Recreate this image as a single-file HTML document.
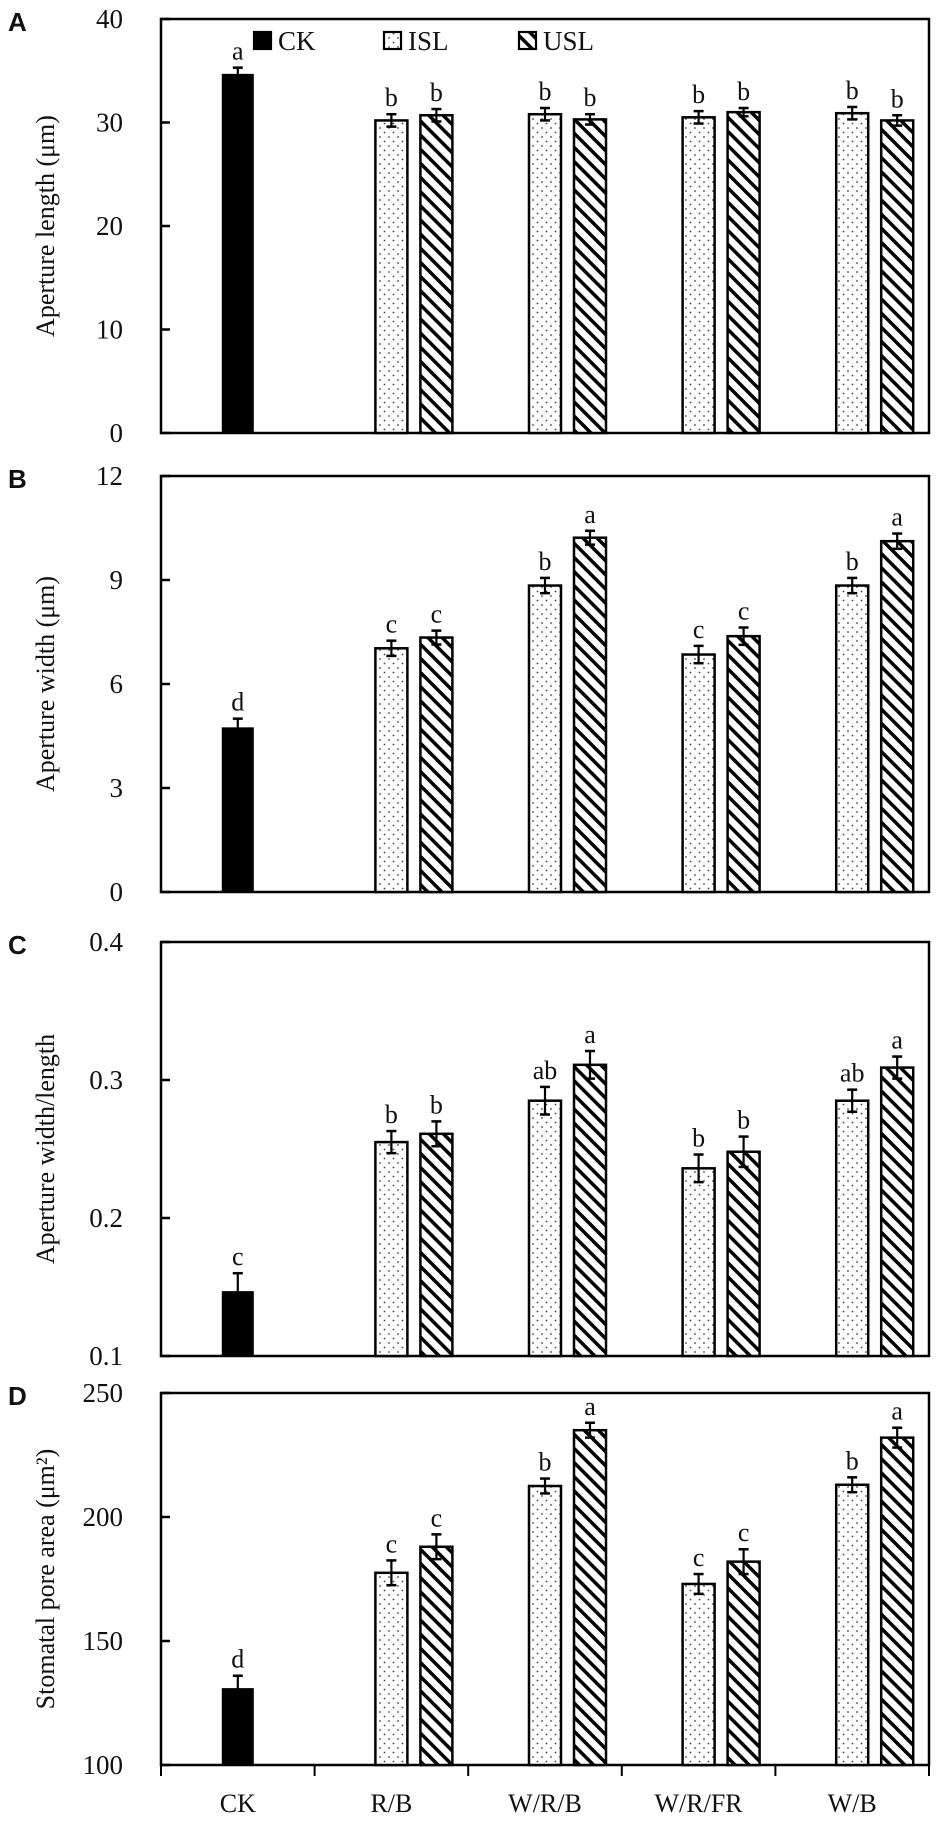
<!DOCTYPE html>
<html><head><meta charset="utf-8"><style>
html,body{margin:0;padding:0;background:#fff;}
svg{display:block;}
.t{font-family:"Liberation Serif",serif;fill:#111;}
.p{font-family:"Liberation Sans",sans-serif;font-weight:bold;fill:#111;}
</style></head><body>
<svg id="chart" width="945" height="1832" viewBox="0 0 945 1832" xmlns="http://www.w3.org/2000/svg">
<defs>
<pattern id="dots" width="9" height="9" patternUnits="userSpaceOnUse"><rect width="9" height="9" fill="#fff"/><circle cx="2" cy="2" r="0.9" fill="#444"/><circle cx="6.5" cy="6.5" r="0.9" fill="#444"/></pattern>
<pattern id="hatch" width="10" height="10" patternUnits="userSpaceOnUse" patternTransform="rotate(-45)"><rect width="10" height="10" fill="#fff"/><rect x="0" y="0" width="3.5" height="10" fill="#000"/></pattern>
</defs>
</svg>
<script>
const categories=["CK","R/B","W/R/B","W/R/FR","W/B"];
const ckA=34.7, ckAErr=0.6;
const islA=[30.2,30.8,30.5,30.9], islAErr=[0.6,0.6,0.6,0.6];
const uslA=[30.7,30.3,31.0,30.2], uslAErr=[0.6,0.5,0.4,0.5];
const lettersA=["a","b","b","b","b","b","b","b","b"];
const ckB=4.75, ckBErr=0.25;
const islB=[7.03,8.84,6.85,8.84], islBErr=[0.22,0.22,0.25,0.22];
const uslB=[7.34,10.22,7.38,10.12], uslBErr=[0.2,0.2,0.25,0.22];
const lettersB=["d","c","c","b","a","c","c","b","a"];
const ckC=0.147, ckCErr=0.013;
const islC=[0.255,0.285,0.236,0.285], islCErr=[0.008,0.01,0.01,0.008];
const uslC=[0.261,0.311,0.248,0.309], uslCErr=[0.009,0.01,0.011,0.008];
const lettersC=["c","b","b","ab","a","b","b","ab","a"];
const ckD=131, ckDErr=5;
const islD=[177.5,212.5,173,213], islDErr=[5,3,4,3];
const uslD=[188,235,182,232], uslDErr=[5,3,5,4];
const lettersD=["d","c","c","b","a","c","c","b","a"];
const ticksA=["0","10","20","30","40"], ticksB=["0","3","6","9","12"], ticksC=["0.1","0.2","0.3","0.4"], ticksD=["100","150","200","250"];

const NS="http://www.w3.org/2000/svg";
const svg=document.getElementById('chart');
function mk(tag,attrs,parent){const e=document.createElementNS(NS,tag);for(const k in attrs)e.setAttribute(k,attrs[k]);(parent||svg).appendChild(e);return e;}
const X0=161,X1=929,GW=(X1-X0)/5,BW=32;
function center(i){return X0+GW*(i+0.5);}

const panels=[
 {id:"a",label:"A",top:19,bot:433,min:0,max:40,ticks:ticksA,ck:ckA,ckE:ckAErr,isl:islA,islE:islAErr,usl:uslA,uslE:uslAErr,let:lettersA,title:"Aperture length (\u03bcm)"},
 {id:"b",label:"B",top:476,bot:892,min:0,max:12,ticks:ticksB,ck:ckB,ckE:ckBErr,isl:islB,islE:islBErr,usl:uslB,uslE:uslBErr,let:lettersB,title:"Aperture width (\u03bcm)"},
 {id:"c",label:"C",top:942,bot:1356,min:0.1,max:0.4,ticks:ticksC,ck:ckC,ckE:ckCErr,isl:islC,islE:islCErr,usl:uslC,uslE:uslCErr,let:lettersC,title:"Aperture width/length"},
 {id:"d",label:"D",top:1393,bot:1765,min:100,max:250,ticks:ticksD,ck:ckD,ckE:ckDErr,isl:islD,islE:islDErr,usl:uslD,uslE:uslDErr,let:lettersD,title:"Stomatal pore area (\u03bcm\u00b2)"}
];

panels.forEach(p=>{
 const g=mk('g',{});
 
 
 const y=v=>p.bot-(v-p.min)/(p.max-p.min)*(p.bot-p.top);
 const pl=mk('text',{x:8,y:p.top+12,'font-size':26,class:'p'},g);pl.textContent=p.label;
 
 
 const fr=mk('rect',{x:X0,y:p.top,width:X1-X0,height:p.bot-p.top,fill:'none',stroke:'#000','stroke-width':2.5},g);
 
 
 p.ticks.forEach(t=>{
  const v=parseFloat(t),ty=y(v);
  mk('line',{x1:X0,x2:X0+9,y1:ty,y2:ty,stroke:'#000','stroke-width':2.5},g);
  const tl=mk('text',{x:X0-38,y:ty+9,'font-size':27,'text-anchor':'end',class:'t'},g);tl.textContent=t;
  
  
 });
 const yt=mk('text',{x:0,y:0,'font-size':26,'text-anchor':'middle',class:'t',transform:`translate(54,${(p.top+p.bot)/2}) rotate(-90)`},g);
 yt.textContent=p.title;
 
 
 function bar(x,v,e,fill,letter,name){
  const top=y(v);
  const r=mk('rect',{x:x,y:top,width:BW,height:p.bot-top,fill:fill,stroke:'#000','stroke-width':fill==='#000'?0:2.5},g);
  
  
  const cx=x+BW/2,et=y(v+e),eb=y(v-e);
  mk('line',{x1:cx,x2:cx,y1:et,y2:eb,stroke:'#000','stroke-width':2.2},g);
  mk('line',{x1:cx-5,x2:cx+5,y1:et,y2:et,stroke:'#000','stroke-width':2.5},g);
  if(fill!=='#000')mk('line',{x1:cx-5,x2:cx+5,y1:eb,y2:eb,stroke:'#000','stroke-width':2.5},g);
  const lt=mk('text',{x:cx,y:et-8,'font-size':26,'text-anchor':'middle',class:'t'},g);lt.textContent=letter;
  
  
 }
 bar(center(0)-BW/2,p.ck,p.ckE,'#000',p.let[0],'bar-ck');
 for(let i=0;i<4;i++){
  bar(center(i+1)-BW/2,p.isl[i],p.islE[i],'url(#dots)',p.let[1+2*i],'bar-isl-'+categories[i+1]);
  bar(center(i+1)+29,p.usl[i],p.uslE[i],'url(#hatch)',p.let[2+2*i],'bar-usl-'+categories[i+1]);
 }
});
for(let i=0;i<=5;i++){mk('line',{x1:X0+GW*i,x2:X0+GW*i,y1:1765,y2:1776,stroke:'#000','stroke-width':2});}
categories.forEach((c,i)=>{
 const t=mk('text',{x:center(i),y:1812,'font-size':26,'text-anchor':'middle',class:'t'});t.textContent=c;
 
 
});
const lg=mk('g',{});


[["CK",254,'#000'],["ISL",384,'url(#dots)'],["USL",519,'url(#hatch)']].forEach(([n,x,f])=>{
 const e=mk('g',{},lg);
 
 
 mk('rect',{x:x,y:32,width:17,height:17,fill:f,stroke:'#000','stroke-width':2.2},e);
 const t=mk('text',{x:x+24,y:50,'font-size':27,class:'t'},e);t.textContent=n;
});
</script>
</body></html>
